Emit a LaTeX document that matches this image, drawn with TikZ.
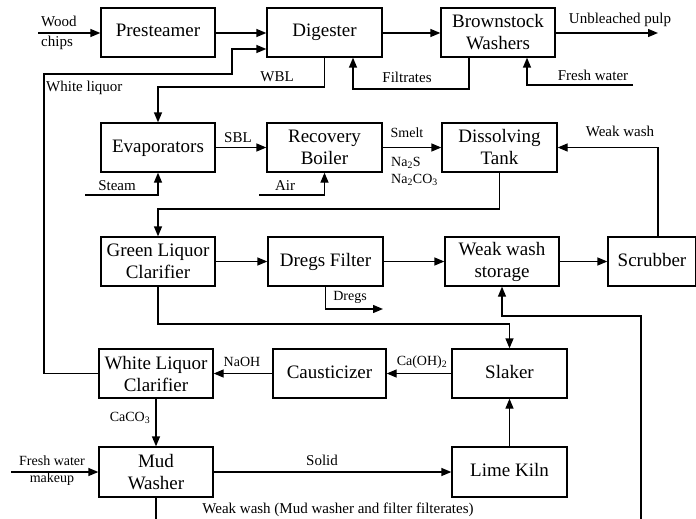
\documentclass[tikz,border=0pt]{standalone}
\usepackage{fontspec}
\setmainfont{Liberation Serif}
\usetikzlibrary{arrows.meta}
\begin{document}
\begin{tikzpicture}[x=1pt,y=-1pt,
  blk/.style={draw, line width=1.3pt, minimum width=114pt, minimum height=49pt, inner sep=0pt, align=center, font=\fontsize{19}{22}\selectfont},
  one/.style={text height=13pt, text depth=4pt},
  ln/.style={line width=1.3pt},
  arr/.style={line width=1.3pt, -{Triangle[length=10pt,width=8pt]}},
  lbl/.style={inner sep=0pt, font=\fontsize{15}{18}\selectfont, align=center},
  slbl/.style={inner sep=0pt, font=\fontsize{14}{17}\selectfont, align=left}]
\useasboundingbox (0,0) rectangle (696,519);
\begin{scope}
\clip (0,0) rectangle (696,519);
% boxes
\node[blk, one] (pre) at (158,32.5) {Presteamer};
\node[blk, one, minimum width=115pt] (dig) at (324.5,32.5) {Digester};
\node[blk] (bw) at (498,32.5) {Brownstock\\Washers};
\node[blk, one] (evap) at (158,147.5) {Evaporators};
\node[blk, minimum width=115pt] (rb) at (324.5,147.5) {Recovery\\Boiler};
\node[blk, minimum width=115pt] (dt) at (499.5,147.5) {Dissolving\\Tank};
\node[blk] (glc) at (158,261.5) {Green Liquor\\Clarifier};
\node[blk, one, minimum width=115pt] (df) at (325.5,261.5) {Dregs Filter};
\node[blk] (wws) at (502,261.5) {Weak wash\\storage};
\node[blk, one, minimum width=88pt] (scr) at (652,261.5) {Scrubber};
\node[blk] (wlc) at (156,373.5) {White Liquor\\Clarifier};
\node[blk, one, minimum width=113pt] (cau) at (329.5,373.5) {Causticizer};
\node[blk, one, minimum width=115pt] (sl) at (509.5,373.5) {Slaker};
\node[blk, minimum height=50pt] (mw) at (156,472) {Mud\\Washer};
\node[blk, one, minimum width=115pt, minimum height=50pt] (lk) at (509.5,472) {Lime Kiln};
% free ends
\coordinate (wood) at (38,33);
\coordinate (pulp) at (658,33);
\coordinate (fw) at (633,85);
\coordinate (steam) at (85,195);
\coordinate (air) at (259,195);
\coordinate (dregs) at (383,309);
\coordinate (fwm) at (11,472);
\coordinate (bot1) at (641,522);
\coordinate (bot2) at (156,522);
% connectors
\draw[arr] (wood) -- (pre.west |- wood);
\draw[arr] (pre.east |- wood) -- (dig.west |- wood);
\draw[arr] (dig.east |- wood) -- (bw.west |- wood);
\draw[arr] (bw.east |- pulp) -- (pulp);
\draw[arr] (wlc.west) -| (44,74) -| (232,49) -- (dig.west |- 0,49);
\draw[arr] (dig.south) |- (evap.north |- 0,87) -- (evap.north);
\draw[arr] ([xshift=-29pt]bw.south) |- (353,89) -- (dig.south -| 353,0);
\draw[arr] (fw) -| ([xshift=29pt]bw.south);
\draw[arr] (evap.east) -- (rb.west);
\draw[arr] (steam) -| (evap.south);
\draw[arr] (air) -| (rb.south);
\draw[arr] (rb.east) -- (dt.west);
\draw[arr] ([xshift=6pt]scr.north) |- (dt.east);
\draw[arr] (dt.south) |- (glc.north |- 0,209) -- (glc.north);
\draw[arr] (glc.east) -- (df.west);
\draw[arr] (df.east) -- (wws.west);
\draw[arr] (wws.east) -- (scr.west);
\draw[arr] (df.south) |- (dregs);
\draw[arr] (glc.south) |- (sl.north |- 0,324) -- (sl.north);
\draw[arr] (bot1) |- (wws.south |- 0,316) -- (wws.south);
\draw[arr] (sl.west) -- (cau.east);
\draw[arr] (cau.west) -- (wlc.east);
\draw[arr] (wlc.south) -- (mw.north);
\draw[arr] (fwm) -- (mw.west);
\draw[arr] (mw.east) -- (lk.west);
\draw[arr] (lk.north) -- (sl.south);
\draw[ln] (mw.south) -- (bot2);
\end{scope}
% labels
\node[lbl, align=left, anchor=west, font=\fontsize{15}{20}\selectfont] (lwood) at (41,33) {Wood\\chips};
\node[lbl, anchor=west] (lwl) at (46,88) {White liquor};
\node[lbl] (lwbl) at (277,77) {WBL};
\node[lbl] (lfil) at (407,77) {Filtrates};
\node[lbl] (lfw) at (593,75) {Fresh water};
\node[lbl] (lpulp) at (620,20) {Unbleached pulp};
\node[lbl] (lsbl) at (238,138) {SBL};
\node[lbl] (lsteam) at (117,186) {Steam};
\node[lbl] (lair) at (285,186) {Air};
\node[slbl] (lsmelt) at (407,133) {Smelt};
\node[slbl, anchor=west] (lna) at (391,171) {Na\textsubscript{2}S\\Na\textsubscript{2}CO\textsubscript{3}};
\node[lbl] (lww) at (620,131) {Weak wash};
\node[slbl] (ldregs) at (350,297) {Dregs};
\node[slbl] (lnaoh) at (242,362) {NaOH};
\node[slbl] (lcaoh) at (422,362) {Ca(OH)\textsubscript{2}};
\node[slbl] (lcaco) at (130,418) {CaCO\textsubscript{3}};
\node[slbl, align=center] (lfwm) at (52,471) {Fresh water\\makeup};
\node[lbl] (lsolid) at (322,460) {Solid};
\node[lbl] (lwwm) at (338,510) {Weak wash (Mud washer and filter filterates)};
\end{tikzpicture}
\end{document}
